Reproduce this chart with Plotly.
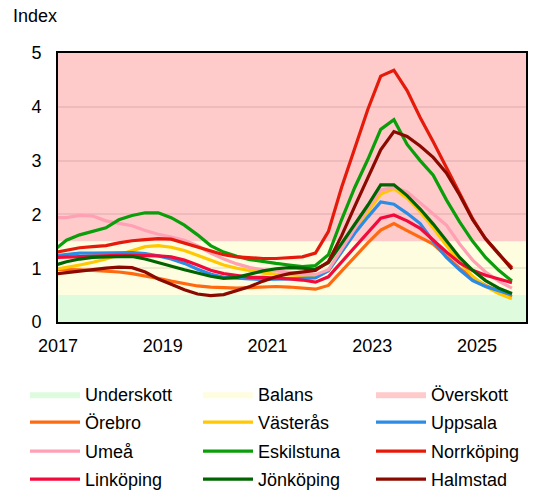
import plotly.graph_objects as go

dates = [
    "2016-12-01",
    "2017-03-01", "2017-06-01", "2017-09-01", "2017-12-01",
    "2018-03-01", "2018-06-01", "2018-09-01", "2018-12-01",
    "2019-03-01", "2019-06-01", "2019-09-01", "2019-12-01",
    "2020-03-01", "2020-06-01", "2020-09-01", "2020-12-01",
    "2021-03-01", "2021-06-01", "2021-09-01", "2021-12-01",
    "2022-03-01", "2022-06-01", "2022-09-01", "2022-12-01",
    "2023-03-01", "2023-06-01", "2023-09-01", "2023-12-01",
    "2024-03-01", "2024-06-01", "2024-09-01", "2024-12-01",
    "2025-03-01", "2025-06-01", "2025-09-01",
]

orebro = [0.98, 0.98, 0.97, 0.96, 0.95, 0.93, 0.90, 0.86, 0.81, 0.76, 0.71, 0.67, 0.65,
          0.64, 0.63, 0.64, 0.65, 0.66, 0.65, 0.63, 0.61, 0.68, 0.95, 1.20, 1.47,
          1.71, 1.83, 1.70, 1.58, 1.45, 1.22, 1.00, 0.82, 0.68, 0.57, 0.47]
vasteras = [0.97, 1.01, 1.06, 1.11, 1.17, 1.25, 1.33, 1.40, 1.42, 1.39, 1.33, 1.24, 1.15,
            1.06, 1.00, 0.95, 0.91, 0.89, 0.88, 0.87, 0.85, 0.95, 1.30, 1.68, 2.05,
            2.38, 2.48, 2.30, 2.05, 1.75, 1.42, 1.12, 0.85, 0.66, 0.53, 0.43]
uppsala = [1.23, 1.25, 1.28, 1.28, 1.28, 1.29, 1.29, 1.27, 1.23, 1.17, 1.09, 0.98, 0.89,
           0.83, 0.81, 0.80, 0.79, 0.79, 0.80, 0.81, 0.82, 0.95, 1.30, 1.65, 1.95,
           2.23, 2.19, 2.02, 1.83, 1.50, 1.20, 0.97, 0.77, 0.66, 0.58, 0.51]
umea = [1.94, 1.94, 1.98, 1.97, 1.88, 1.83, 1.79, 1.70, 1.63, 1.58, 1.52, 1.42, 1.28,
        1.17, 1.08, 1.01, 0.97, 0.95, 0.92, 0.90, 0.88, 0.97, 1.35, 1.75, 2.12,
        2.45, 2.50, 2.42, 2.22, 2.02, 1.80, 1.45, 1.15, 0.93, 0.76, 0.63]
eskilstuna = [1.33, 1.52, 1.62, 1.69, 1.75, 1.90, 1.98, 2.03, 2.03, 1.94, 1.80, 1.62, 1.42,
              1.30, 1.22, 1.16, 1.12, 1.09, 1.06, 1.03, 1.05, 1.25, 1.90, 2.50, 3.02,
              3.58, 3.76, 3.30, 3.00, 2.73, 2.27, 1.86, 1.50, 1.20, 0.96, 0.76]
norrkoping = [1.29, 1.34, 1.38, 1.40, 1.42, 1.47, 1.51, 1.53, 1.55, 1.54, 1.47, 1.40, 1.32,
              1.25, 1.21, 1.19, 1.18, 1.18, 1.19, 1.21, 1.28, 1.68, 2.50, 3.25, 3.95,
              4.57, 4.68, 4.30, 3.80, 3.35, 2.88, 2.40, 1.92, 1.54, 1.26, 1.01]
linkoping = [1.20, 1.21, 1.22, 1.23, 1.24, 1.24, 1.24, 1.24, 1.23, 1.21, 1.15, 1.06, 0.96,
             0.90, 0.86, 0.83, 0.83, 0.82, 0.80, 0.78, 0.74, 0.84, 1.12, 1.39, 1.66,
             1.93, 1.99, 1.88, 1.74, 1.52, 1.30, 1.10, 0.96, 0.87, 0.80, 0.73]
jonkoping = [1.05, 1.12, 1.17, 1.20, 1.21, 1.22, 1.22, 1.17, 1.10, 1.04, 0.97, 0.91, 0.85,
             0.81, 0.83, 0.89, 0.95, 0.99, 1.01, 1.00, 0.98, 1.10, 1.46, 1.81, 2.17,
             2.55, 2.55, 2.35, 2.10, 1.82, 1.50, 1.20, 0.96, 0.77, 0.63, 0.53]
halmstad = [0.89, 0.92, 0.95, 0.98, 1.00, 1.02, 1.01, 0.93, 0.80, 0.70, 0.60, 0.52, 0.49,
            0.51, 0.58, 0.66, 0.76, 0.84, 0.90, 0.93, 0.96, 1.12, 1.60, 2.15, 2.68,
            3.20, 3.54, 3.45, 3.27, 3.06, 2.77, 2.36, 1.90, 1.55, 1.27, 0.98]

series_names = ["Örebro", "Västerås", "Uppsala", "Umeå", "Eskilstuna",
                "Norrköping", "Linköping", "Jönköping", "Halmstad"]
series_values = [orebro, vasteras, uppsala, umea, eskilstuna,
                 norrkoping, linkoping, jonkoping, halmstad]
series_colors = ["#FF6A10", "#FFC800", "#2B8CE6", "#FFA0B4", "#0A9E0A",
                 "#E51A0B", "#F20A3C", "#006400", "#8B0A00"]

band_names = ["Underskott", "Balans", "Överskott"]
band_lower = [0, 0.5, 1.5]
band_upper = [0.5, 1.5, 5]
band_colors = ["#DEFBDE", "#FFFDE0", "#FFCACA"]

x_range = ["2017-01-01", "2025-12-08"]
tick_vals = ["2017-01-01", "2019-01-01", "2021-01-01", "2023-01-01", "2025-01-01"]
tick_text = ["2017", "2019", "2021", "2023", "2025"]

FONT = "Liberation Sans, Arial, sans-serif"
legend_ids = ["legend", "legend2", "legend3", "legend4"]
legend_rows_y = [-0.2007, -0.3048, -0.4126, -0.5167]

fig = go.Figure()

for name, color in zip(band_names, band_colors):
    fig.add_trace(go.Scatter(
        x=[None], y=[None], name=name, mode="lines", fill="toself",
        fillcolor=color, line=dict(width=0, color=color), legend="legend",
    ))

for lo, hi, color in zip(band_lower, band_upper, band_colors):
    fig.add_shape(type="rect", xref="paper", x0=0, x1=1, yref="y", y0=lo, y1=hi,
                  fillcolor=color, line=dict(width=0), layer="below")

for i, (name, vals, color) in enumerate(zip(series_names, series_values, series_colors)):
    fig.add_trace(go.Scatter(
        x=dates, y=vals, name=name, mode="lines",
        line=dict(color=color, width=3.2), legend=legend_ids[1 + i // 3],
    ))

legend_common = dict(
    orientation="h", xref="paper", x=-0.0705, xanchor="left",
    yref="paper", yanchor="top",
    entrywidth=108, entrywidthmode="pixels",
    itemwidth=50, tracegroupgap=0,
    font=dict(family=FONT, size=18, color="#000000"),
    bgcolor="rgba(0,0,0,0)",
)

fig.update_layout(
    width=544, height=487,
    margin=dict(l=50, r=26, t=45, b=173, autoexpand=False),
    paper_bgcolor="white", plot_bgcolor="rgba(0,0,0,0)",
    font=dict(family=FONT, size=18, color="#000000"),
    showlegend=True,
    annotations=[dict(
        text="Index", xref="paper", yref="paper", x=-0.099, y=1.1375,
        xanchor="left", yanchor="middle", showarrow=False, borderpad=0,
        font=dict(family=FONT, size=18, color="#000000"),
    )],
)
for lid, ly in zip(legend_ids, legend_rows_y):
    fig.update_layout({lid: dict(legend_common, y=ly)})

fig.update_xaxes(
    type="date", range=x_range, tickvals=tick_vals, ticktext=tick_text,
    showgrid=False, showline=True, linecolor="#000000", linewidth=2, mirror=True,
    ticks="outside", ticklen=6, tickcolor="rgba(0,0,0,0)", zeroline=False,
    automargin=False,
)
fig.update_yaxes(
    range=[0, 5], dtick=1, showgrid=True, gridcolor="rgba(0,0,0,0.07)", gridwidth=1.5,
    showline=True, linecolor="#000000", linewidth=2, mirror=True,
    ticks="outside", ticklen=11, tickcolor="rgba(0,0,0,0)", zeroline=False,
    automargin=False,
)

fig.write_html("out.html")
